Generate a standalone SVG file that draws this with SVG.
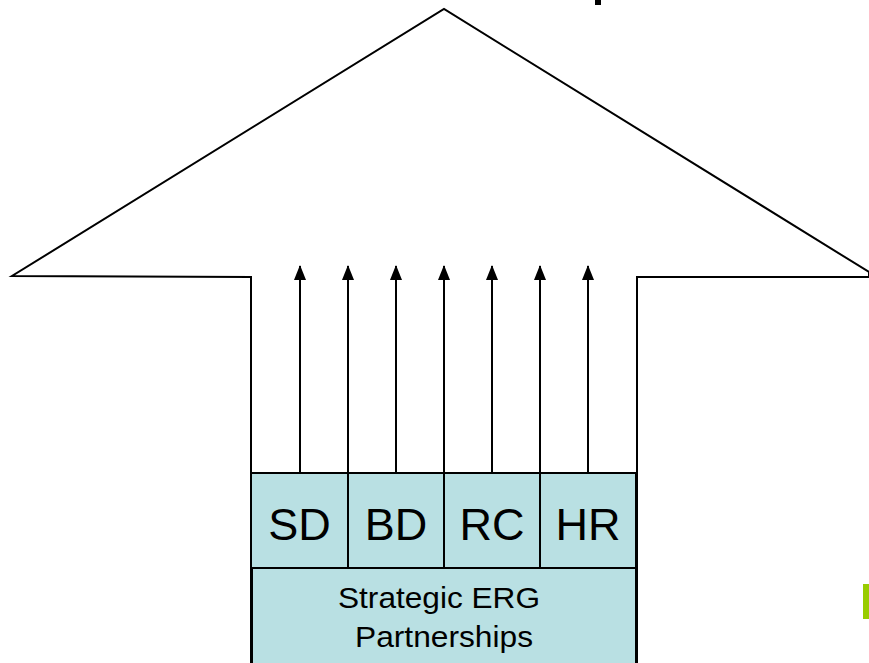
<svg xmlns="http://www.w3.org/2000/svg" width="869" height="663" viewBox="0 0 869 663">
<style>
.big{font-family:"Liberation Sans",Arial,sans-serif;font-size:45px;fill:#000;text-anchor:middle}
.sm{font-family:"Liberation Sans",Arial,sans-serif;font-size:29px;fill:#000;text-anchor:middle}
.cell{fill:#b9e0e3;stroke:#000;stroke-width:2}
.conn{stroke:#000;stroke-width:2;fill:none;marker-end:url(#ah)}
</style>
<defs>
<marker id="ah" markerWidth="15" markerHeight="12" refX="14" refY="6" orient="auto" markerUnits="userSpaceOnUse" viewBox="0 0 15 12">
<path d="M0,0 L15,6 L0,12 Z" fill="#000"/>
</marker>
</defs>
<rect width="869" height="663" fill="#fff"/>
<rect x="595" y="0" width="6" height="5" fill="#000"/>
<rect x="863" y="584" width="6" height="35" fill="#99cc00"/>
<g id="bigArrow">
<path d="M251,663 L251,277 L12,276 L444,9 L869,272 L869,277 L637,277 L637,663" fill="#fff" stroke="#000" stroke-width="2"/>
</g>
<g id="connectors">
<line class="conn" x1="300" y1="473" x2="300" y2="266"/>
<line class="conn" x1="348" y1="473" x2="348" y2="266"/>
<line class="conn" x1="396" y1="473" x2="396" y2="266"/>
<line class="conn" x1="444" y1="473" x2="444" y2="266"/>
<line class="conn" x1="492" y1="473" x2="492" y2="266"/>
<line class="conn" x1="540" y1="473" x2="540" y2="266"/>
<line class="conn" x1="588" y1="473" x2="588" y2="266"/>
</g>
<g id="SD"><rect class="cell" x="251" y="473" width="97" height="95"/><text class="big" x="299.5" y="540">SD</text></g>
<g id="BD"><rect class="cell" x="348" y="473" width="96" height="95"/><text class="big" x="396" y="540">BD</text></g>
<g id="RC"><rect class="cell" x="444" y="473" width="96" height="95"/><text class="big" x="492" y="540">RC</text></g>
<g id="HR"><rect class="cell" x="540" y="473" width="96" height="95"/><text class="big" x="588" y="540">HR</text></g>
<g id="partnerships"><rect class="cell" x="252" y="568" width="384" height="100"/>
<text class="sm" x="439" y="608" textLength="202" lengthAdjust="spacingAndGlyphs">Strategic ERG</text>
<text class="sm" x="444" y="647" textLength="178" lengthAdjust="spacingAndGlyphs">Partnerships</text></g>
</svg>
